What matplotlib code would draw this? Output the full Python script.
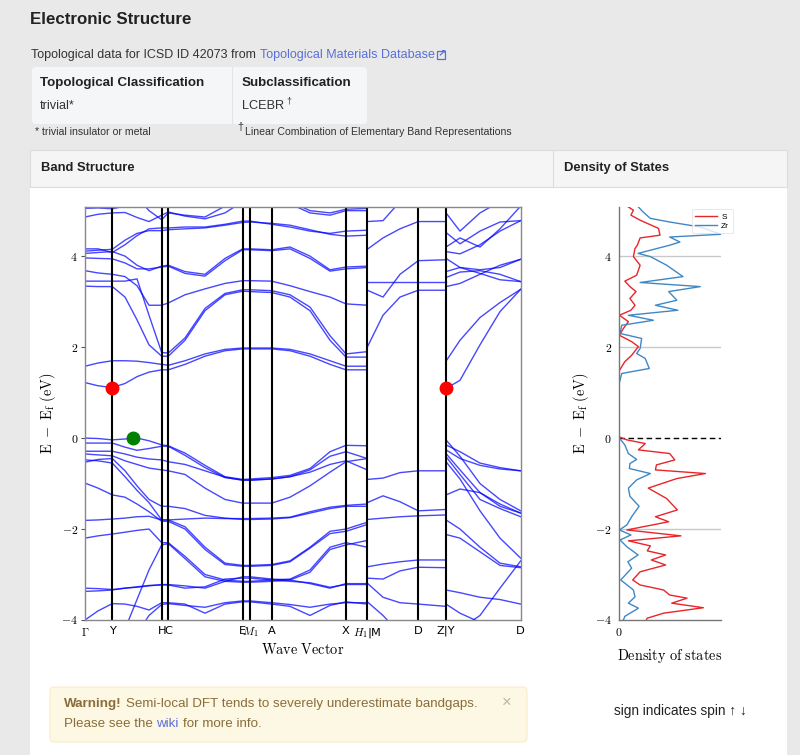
import numpy as np
import matplotlib
matplotlib.use('Agg')
import matplotlib.pyplot as plt
from matplotlib.patches import Rectangle, FancyBboxPatch

plt.rcParams['font.family'] = ['Liberation Sans', 'DejaVu Sans']
plt.rcParams['mathtext.fontset'] = 'cm'

# ---- band structure data (energies in eV, k along path) ----
sym_k = [0, 27.3, 76.7, 83.3, 157.7, 165, 186.7, 261, 282.3, 333.3, 361, 435.7]
sym_labels = ['$\\Gamma$', 'Y', 'H', 'C', 'E', '$M_1$', 'A', 'X', '$H_1$|M', 'D', 'Z|Y', 'D']

# Gamma - Y - H - C - E - M1 - A - X - H1
k_a = [0, 13, 27.3, 40, 52, 64, 76.7, 83.3, 100, 120, 140, 157.7, 165, 186.7, 205, 225, 245, 261, 282.3]
bands_a = [
    [1.22, 1.15, 1.11, 1.2, 1.35, 1.45, 1.5, 1.5, 1.62, 1.8, 1.92, 1.96, 1.96, 1.96, 1.92, 1.8, 1.62, 1.5, 1.5],
    [1.58, 1.65, 1.7, 1.7, 1.69, 1.66, 1.62, 1.6, 1.7, 1.85, 1.95, 1.98, 1.98, 1.98, 1.95, 1.85, 1.7, 1.58, 1.58],
    [3.34, 3.33, 3.33, 3.1, 2.6, 2.05, 1.8, 1.8, 2.15, 2.8, 3.15, 3.23, 3.22, 3.2, 3.1, 2.8, 2.15, 1.78, 1.78],
    [3.45, 3.45, 3.45, 3.45, 3.5, 2.7, 1.88, 1.87, 2.2, 2.85, 3.18, 3.26, 3.26, 3.24, 3.15, 2.88, 2.25, 1.85, 1.9],
    [3.68, 3.63, 3.6, 3.55, 3.35, 2.92, 2.92, 2.97, 3.15, 3.28, 3.4, 3.46, 3.46, 3.45, 3.35, 3.22, 3.1, 2.95, 2.92],
    [3.96, 3.95, 3.94, 3.85, 3.72, 3.72, 3.76, 3.78, 3.62, 3.56, 3.9, 4.14, 4.14, 4.12, 4.16, 3.95, 3.67, 3.72, 3.75],
    [4.06, 4.08, 4.1, 4.0, 3.8, 3.68, 3.78, 3.8, 3.66, 3.6, 3.95, 4.16, 4.16, 4.14, 4.2, 4.0, 3.7, 3.76, 3.78],
    [4.11, 4.13, 4.15, 4.35, 4.5, 4.56, 4.56, 4.58, 4.6, 4.62, 4.68, 4.74, 4.75, 4.72, 4.68, 4.58, 4.48, 4.44, 4.46],
    [4.16, 4.16, 4.08, 4.25, 4.45, 4.6, 4.62, 4.62, 4.64, 4.64, 4.7, 4.77, 4.77, 4.7, 4.64, 4.55, 4.5, 4.55, 4.57],
    [4.86, 4.92, 4.95, 4.96, 4.85, 4.76, 4.9, 4.97, 4.88, 4.82, 4.95, 5.2, 5.3, 5.3, 5.15, 4.95, 4.9, 5.0, 5.0],
    [5.05, 5.06, 5.04, 5.1, 5.3, 5.0, 4.8, 4.95, 4.9, 4.86, 5.1, 5.3, 5.3, 5.3, 5.2, 5.0, 4.95, 5.03, 5.05],
    [0.0, -0.01, -0.04, -0.02, 0.0, -0.06, -0.15, -0.17, -0.33, -0.6, -0.85, -0.91, -0.9, -0.87, -0.82, -0.67, -0.3, -0.16, -0.17],
    [-0.11, -0.11, -0.11, -0.2, -0.27, -0.23, -0.18, -0.18, -0.38, -0.65, -0.87, -0.92, -0.92, -0.9, -0.85, -0.7, -0.4, -0.3, -0.45],
    [-0.29, -0.29, -0.29, -0.35, -0.42, -0.46, -0.48, -0.52, -0.58, -0.72, -0.86, -0.93, -0.93, -0.9, -0.85, -0.75, -0.58, -0.5, -0.7],
    [-0.35, -0.37, -0.39, -0.5, -0.58, -0.66, -0.7, -0.72, -0.8, -1.1, -1.35, -1.43, -1.43, -1.43, -1.3, -1.05, -0.75, -0.52, -0.45],
    [-0.48, -0.5, -0.55, -0.85, -1.15, -1.42, -1.8, -1.8, -1.95, -2.4, -2.75, -2.8, -2.8, -2.78, -2.7, -2.4, -2.05, -2.0, -1.85],
    [-0.53, -0.47, -0.45, -0.72, -1.05, -1.35, -1.5, -1.5, -1.55, -1.7, -1.76, -1.79, -1.79, -1.78, -1.75, -1.65, -1.55, -1.5, -1.5],
    [-0.99, -1.1, -1.25, -1.3, -1.45, -1.62, -1.83, -1.83, -2.0, -2.45, -2.78, -2.82, -2.82, -2.8, -2.72, -2.42, -2.1, -2.05, -1.9],
    [-1.81, -1.8, -1.78, -1.76, -1.73, -1.72, -1.8, -1.8, -1.78, -1.76, -1.77, -1.77, -1.77, -1.76, -1.74, -1.62, -1.52, -1.48, -1.45],
    [-2.2, -2.15, -2.11, -2.07, -2.03, -2.0, -2.3, -2.3, -2.6, -3.0, -3.12, -3.15, -3.15, -3.12, -3.1, -2.9, -2.4, -2.3, -2.4],
    [-3.3, -3.31, -3.33, -3.3, -3.28, -3.25, -3.22, -3.22, -3.25, -3.3, -3.15, -3.05, -3.05, -3.1, -3.12, -3.2, -3.3, -3.2, -3.2],
    [-3.37, -3.36, -3.34, -3.3, -3.27, -3.24, -3.23, -3.23, -3.3, -3.27, -3.1, -3.08, -3.08, -3.12, -3.15, -3.18, -3.28, -3.22, -3.22],
    [-4.0, -3.8, -3.64, -3.65, -3.7, -3.78, -3.62, -3.62, -3.65, -3.85, -3.65, -3.6, -3.6, -3.65, -3.7, -3.9, -3.68, -3.6, -3.65],
    [-5.0, -5.0, -4.8, -4.2, -3.55, -2.9, -2.35, -2.32, -2.65, -3.05, -3.15, -3.17, -3.17, -3.15, -3.12, -2.95, -2.45, -2.35, -2.25],
    [-5.0, -5.0, -5.0, -4.8, -4.3, -3.9, -3.66, -3.64, -3.68, -3.72, -3.62, -3.58, -3.58, -3.62, -3.66, -3.72, -3.65, -3.62, -3.62],
]

# M - D - Z
k_b = [282.3, 298, 315, 333.3, 361]
bands_b = [
    [2.0, 2.7, 3.1, 3.25, 3.25],
    [3.25, 3.1, 3.6, 3.9, 3.92],
    [3.44, 3.44, 3.44, 3.44, 3.44],
    [4.15, 4.4, 4.6, 4.76, 4.76],
    [4.76, 4.78, 5.2, 5.3, 5.3],
    [-0.91, -0.88, -0.76, -0.72, -0.72],
    [-1.42, -1.27, -1.4, -1.6, -1.57],
    [-1.79, -1.76, -1.73, -1.71, -1.69],
    [-2.83, -2.77, -2.72, -2.68, -2.68],
    [-3.08, -3.1, -2.92, -2.84, -2.85],
    [-3.19, -3.5, -3.62, -3.65, -3.7],
    [-3.6, -3.9, -4.3, -4.5, -4.5],
]

# Y - D
k_c = [361, 375, 395, 415, 435.7]
bands_c = [
    [1.09, 1.27, 2.05, 2.78, 3.27],
    [1.69, 2.15, 2.65, 2.98, 3.27],
    [3.33, 3.4, 3.6, 3.8, 3.93],
    [3.53, 3.65, 3.68, 3.6, 3.44],
    [3.66, 3.75, 3.62, 3.48, 3.44],
    [3.95, 3.75, 3.7, 3.75, 3.93],
    [4.1, 4.05, 4.25, 4.55, 4.78],
    [4.2, 4.4, 4.2, 4.6, 5.1],
    [4.52, 4.27, 4.55, 4.75, 4.78],
    [4.95, 4.55, 4.95, 5.2, 5.2],
    [-0.04, -0.4, -1.0, -1.35, -1.6],
    [-0.15, -0.3, -0.55, -0.65, -0.72],
    [-0.26, -0.45, -0.6, -0.68, -0.72],
    [-0.34, -0.7, -1.2, -1.5, -1.65],
    [-0.41, -0.8, -1.35, -1.55, -1.73],
    [-0.52, -0.9, -1.6, -2.2, -2.64],
    [-1.25, -1.12, -1.2, -1.45, -1.65],
    [-1.8, -2.0, -2.4, -2.75, -2.83],
    [-2.12, -2.2, -2.5, -2.8, -2.85],
    [-3.34, -3.4, -3.5, -3.55, -3.65],
    [-4.5, -4.2, -3.9, -3.3, -2.7],
    [-3.65, -3.85, -4.05, -4.2, -4.2],
]

cbm_k = [27.3, 361]
cbm_e = [1.11, 1.09]
vbm_k = [48.3]
vbm_e = [0.0]

# ---- density of states ----
zr_e = [5.08, 4.97, 4.83, 4.75, 4.64, 4.48, 4.42, 4.31, 4.24, 4.06, 3.99, 3.8, 3.55, 3.42, 3.33, 3.22, 3.03, 2.92,
        2.81, 2.7, 2.59, 2.48, 2.3, 2.19, 1.97, 1.86, 1.75, 1.53, 1.42, 1.16, 0.6, 0.0, -0.15, -0.34, -0.47, -0.56,
        -0.67, -0.78, -0.92, -1.1, -1.28, -1.5, -1.73, -1.91, -2.02, -2.13, -2.24, -2.39, -2.57, -2.72, -2.86,
        -3.12, -3.34, -3.49, -3.63, -3.74, -3.92, -4.0]
zr_dos = [1.93, 2.4, 3.1, 5.0, 8.0, 10.0, 5.0, 6.0, 5.0, 1.9, 3.1, 4.7, 6.3, 2.1, 8.0, 4.9, 5.7, 3.6, 5.8, 0.95,
          3.4, 0.3, 0.13, 2.25, 2.1, 1.76, 2.6, 3.0, 0.3, 0.0, 0.0, 0.07, 0.6, 0.95, 1.76, 1.1, 1.05, 3.1, 1.76,
          0.95, 1.1, 2.0, 1.27, 0.8, 0.07, 1.2, 0.13, 0.8, 1.9, 0.9, 1.27, 0.2, 1.44, 1.6, 0.95, 1.93, 0.6, 0.46]
s_e = [5.08, 5.01, 4.9, 4.79, 4.61, 4.46, 4.4, 4.24, 4.17, 3.99, 3.8, 3.58, 3.45, 3.33, 3.22, 3.07, 2.92, 2.81,
       2.7, 2.56, 2.41, 2.26, 2.12, 2.01, 1.82, 1.68, 1.46, 0.6, 0.03, -0.04, -0.12, -0.26, -0.34, -0.48, -0.59,
       -0.7, -0.78, -0.89, -1.1, -1.33, -1.58, -1.73, -1.84, -2.02, -2.15, -2.26, -2.37, -2.48, -2.57, -2.68,
       -2.79, -2.94, -3.12, -3.23, -3.34, -3.45, -3.52, -3.63, -3.73, -3.85, -3.96, -4.0]
s_dos = [0.95, 1.44, 1.2, 2.1, 3.9, 4.05, 2.1, 1.83, 1.6, 1.44, 2.1, 1.76, 0.6, 1.1, 1.7, 1.1, 1.6, 1.2, 0.07,
         0.95, 0.46, 0.07, 1.27, 1.93, 1.27, 0.6, 0.0, 0.0, 0.0, 0.8, 2.6, 1.93, 5.0, 5.5, 3.7, 3.6, 8.5, 5.7, 2.9,
         4.7, 5.75, 3.6, 4.9, 0.8, 6.1, 0.95, 3.1, 2.8, 4.6, 3.2, 4.6, 2.1, 1.37, 2.1, 4.4, 5.0, 6.7, 5.2, 8.3,
         4.4, 2.8, 2.7]

e_ticks = [-4, -2, 0, 2, 4]

W, H = 800, 755
fig = plt.figure(figsize=(W / 100, H / 100), dpi=100)
fig.patch.set_facecolor('#e9e9e9')

# page layer in pixel coordinates
pg = fig.add_axes([0, 0, 1, 1])
pg.set_xlim(0, W)
pg.set_ylim(H, 0)
pg.axis('off')

txt = '#333333'
link = '#5a6fd8'
pg.text(30, 20, 'Electronic Structure', fontsize=12.2, fontweight='bold', color='#222222', va='center')
pg.text(31, 55, 'Topological data for ICSD ID 42073 from', fontsize=9.0, color=txt, va='center')
pg.text(260, 55, 'Topological Materials Database', fontsize=9.0, color=link, va='center')
pg.add_patch(Rectangle((437, 51), 8, 8, fc='none', ec=link, lw=0.9))
pg.text(442, 53.5, '\u2197', fontsize=7.5, color=link, va='center', ha='center', fontweight='bold',
        family=['DejaVu Sans'])

pg.add_patch(FancyBboxPatch((32, 67), 335, 57, boxstyle='round,pad=0,rounding_size=4',
                            fc='#f5f6f7', ec='none'))
pg.plot([232, 232], [67, 124], color='#e4e4e4', lw=0.8)
pg.text(40, 83, 'Topological Classification', fontsize=9.6, fontweight='bold', color='#222222', va='center')
pg.text(40, 106, 'trivial*', fontsize=9.2, color=txt, va='center')
pg.text(242, 83, 'Subclassification', fontsize=9.6, fontweight='bold', color='#222222', va='center')
pg.text(242, 106, 'LCEBR', fontsize=9.2, color=txt, va='center')
pg.text(286, 101, '\u2020', fontsize=6.5, color=txt, va='center')
pg.text(35, 132, '* trivial insulator or metal', fontsize=7.6, color=txt, va='center')
pg.text(237, 127, '\u2020', fontsize=7.6, color=txt, va='center')
pg.text(245, 132, 'Linear Combination of Elementary Band Representations', fontsize=7.6,
        color=txt, va='center')

# panel
pg.add_patch(Rectangle((30, 150), 757, 605, fc='white', ec='none'))
pg.add_patch(Rectangle((30, 150), 757, 37, fc='#f5f5f5', ec='#dcdcdc', lw=0.8))
pg.plot([553, 553], [150, 187], color='#dcdcdc', lw=0.8)
pg.text(41, 168, 'Band Structure', fontsize=9.4, fontweight='bold', color='#222222', va='center')
pg.text(564, 168, 'Density of States', fontsize=9.4, fontweight='bold', color='#222222', va='center')

# warning box
warn = '#8a6d3b'
pg.add_patch(FancyBboxPatch((50, 687), 477, 55, boxstyle='round,pad=0,rounding_size=4',
                            fc='#fcf8e3', ec='#faebcc', lw=0.8))
pg.text(64, 704, 'Warning!', fontsize=9.6, fontweight='bold', color=warn, va='center')
pg.text(126, 704, 'Semi-local DFT tends to severely underestimate bandgaps.', fontsize=9.6,
        color=warn, va='center')
pg.text(64, 724, 'Please see the', fontsize=9.6, color=warn, va='center')
pg.text(156, 724, 'wiki', fontsize=9.6, color=link, va='center')
pg.text(183, 724, 'for more info.', fontsize=9.6, color=warn, va='center')
pg.text(507, 702, '\u00d7', fontsize=12, color='#c2b59a', va='center', ha='center')
pg.text(614, 711, 'sign indicates spin \u2191 \u2193', fontsize=9.8, color='#222222', va='center')


def px_rect(left, top, right, bottom):
    return [left / W, 1 - bottom / H, (right - left) / W, (bottom - top) / H]


ylo, yhi = -4, 5.08
tick_fmt = ['$%d$' % t if t >= 0 else '$-%d$' % -t for t in e_ticks]

# band structure axes
ax = fig.add_axes(px_rect(85, 207, 520.7, 620))
for kk, bb in ((k_a, bands_a), (k_b, bands_b), (k_c, bands_c)):
    for band in bb:
        ax.plot(kk, band, color='#0000ff', alpha=0.72, lw=1.0)
for kv in sym_k[1:-1]:
    ax.axvline(kv, color='black', lw=1.5)
ax.plot(cbm_k, cbm_e, 'o', color='red', ms=9, zorder=5)
ax.plot(vbm_k, vbm_e, 'o', color='green', ms=9, zorder=5)
ax.set_xlim(sym_k[0], sym_k[-1])
ax.set_ylim(ylo, yhi)
ax.set_xticks(sym_k)
ax.set_xticklabels(sym_labels, family=['DejaVu Sans'], fontsize=8.2)
ax.set_yticks(e_ticks)
ax.set_yticklabels(tick_fmt, fontsize=8.5)
ax.tick_params(axis='x', length=0, pad=4)
ax.tick_params(axis='y', length=3, width=0.8, color='#555555', pad=2)
for sp in ax.spines.values():
    sp.set_color('#888888')
    sp.set_linewidth(1.0)
ax.set_xlabel(r'$\mathrm{Wave\ Vector}$', fontsize=10.3, labelpad=2)
ax.set_ylabel(r'$\mathrm{E\ -\ E_f\ (eV)}$', fontsize=10.3, labelpad=2)

# density of states axes
ad = fig.add_axes(px_rect(618.7, 207, 720.7, 620))
for e in e_ticks:
    if e not in (0, -4):
        ad.axhline(e, color='#c8c8c8', lw=1.0, zorder=0)
ad.axhline(0, color='black', ls='--', lw=1.0, dashes=(4, 2.5))
ad.plot(s_dos, s_e, color='#e8262a', lw=1.0, label='S')
ad.plot(zr_dos, zr_e, color='#3f88c5', lw=1.0, label='Zr')
ad.set_xlim(0, 10)
ad.set_ylim(ylo, yhi)
ad.set_xticks([0])
ad.set_xticklabels(['$0$'], fontsize=8.5)
ad.set_yticks(e_ticks)
ad.set_yticklabels(tick_fmt, fontsize=8.5)
ad.tick_params(axis='both', length=0, pad=5)
for side in ('top', 'right'):
    ad.spines[side].set_visible(False)
for side in ('left', 'bottom'):
    ad.spines[side].set_color('#777777')
    ad.spines[side].set_linewidth(1.0)
ad.set_xlabel(r'$\mathrm{Density\ of\ states}$', fontsize=10.3, labelpad=6)
ad.set_ylabel(r'$\mathrm{E\ -\ E_f\ (eV)}$', fontsize=10.3, labelpad=3)
leg = ad.legend(loc='upper right', bbox_to_anchor=(1.12, 0.995), fontsize=6, frameon=True,
                handlelength=2.6, borderpad=0.45, labelspacing=0.15, handletextpad=0.5, borderaxespad=0)
leg.get_frame().set_edgecolor('#dddddd')
leg.get_frame().set_linewidth(0.6)

fig.savefig('out.png', dpi=100, facecolor=fig.get_facecolor())
